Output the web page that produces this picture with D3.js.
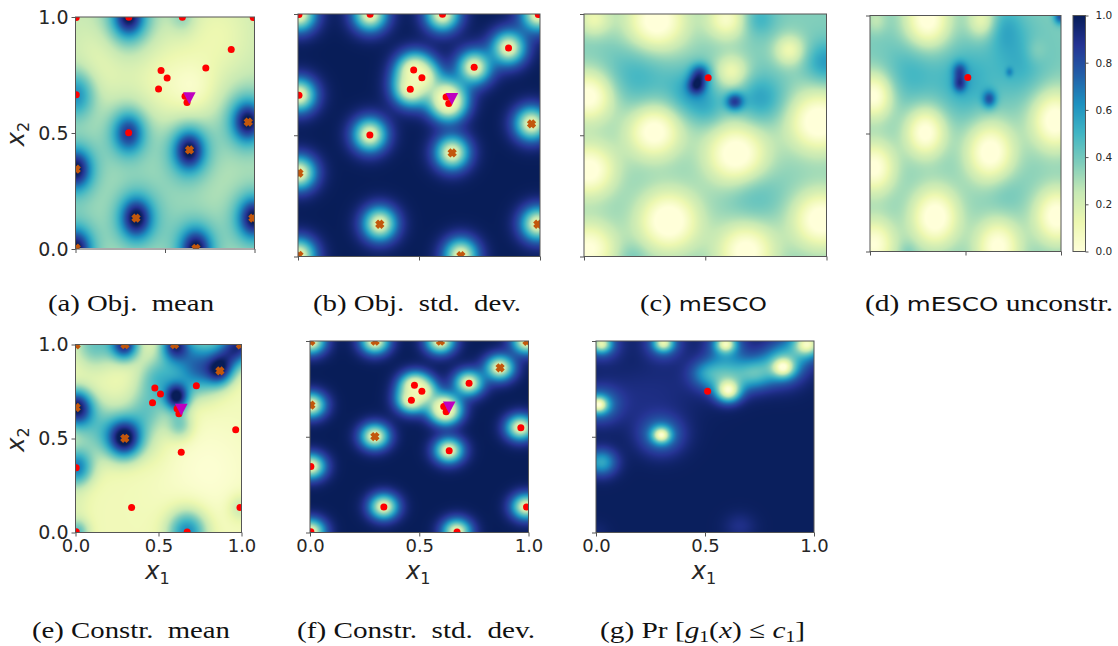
<!DOCTYPE html>
<html><head><meta charset="utf-8">
<script src="https://cdn.jsdelivr.net/npm/d3@7/dist/d3.min.js"></script>
<style>html,body{margin:0;padding:0;background:#fff}svg{display:block}</style>
</head><body><svg id="c" width="1118" height="646"></svg>
<script>
const obsX1 = [0.004,0.298,0.597,0.993,0.870,0.728,0.478,0.512,0.464,0.612,0.623,0.004,0.297,0.965,0.637,0.004,0.338,0.991,0.004,0.673];
const obsX2 = [0.998,0.999,0.999,0.998,0.860,0.780,0.769,0.737,0.690,0.658,0.631,0.665,0.501,0.547,0.427,0.344,0.133,0.133,0.004,0.003];
// 1 = drawn as an orange cross, 0 = a red dot
const objCross    = [0,0,0,0,0,0,0,0,0,0,0,0,0,1,1,1,1,1,1,1];
const constrCross = [1,1,1,1,1,0,0,0,0,0,0,1,1,0,0,0,0,0,0,0];
const bestObj = [0.636,0.652];
const bestConstr = [0.637,0.656];
const suggestA = [0.512,0.737];
const tick3 = [0,0.5,1];
const barTicks = [0,0.2,0.4,0.6,0.8,1];
const palette = ["#ffffd9","#edf8b1","#c7e9b4","#7fcdbb","#41b6c4","#1d91c0","#225ea8","#253494","#081d58"];

// Fields: a base level plus features [x1, x2, height, width]
const baseA = 0.25;
const peaksA = [[0.635,0.425,1],[0.962,0.55,1],[0.0,0.343,1],[0.339,0.133,1],[0.995,0.133,1],[0.0,0.0,1],[0.672,0.0,1],[0.297,0.5,0.8],[0.297,1.0,1]];
const featA = [[0.003,0.665,0.38,0.07],[0.6,1.0,0.14,0.05],[0.5,0.72,-0.14,0.14],[0.67,0.68,-0.12,0.09],[0.8,0.92,-0.12,0.14],[0.12,0.85,-0.07,0.1],[0.2,0.72,-0.05,0.1],[0.5,0.2,0.04,0.15]];
const baseC = 0.37;
const featC = [[0.30,0.97,-0.43,0.09],[0.59,0.98,-0.32,0.06],[0.85,0.85,-0.26,0.045],[0.04,0.98,-0.24,0.05],[0.02,0.66,-0.41,0.075],[0.29,0.515,-0.42,0.08],[0.63,0.42,-0.44,0.09],[0.97,0.555,-0.44,0.09],[0.02,0.355,-0.41,0.08],[0.35,0.145,-0.45,0.09],[0.67,0.02,-0.41,0.085],[0.98,0.15,-0.43,0.085],[0.02,0.03,-0.38,0.08],[0.61,0.76,-0.26,0.05],[0.22,0.74,0.14,0.1],[0.45,0.67,0.2,0.07],[0.73,0.65,0.2,0.07],[0.72,0.98,0.15,0.05],[1.0,0.8,0.22,0.06],[0.7,0.25,0.1,0.08],[0.2,0.0,0.06,0.04],[0.465,0.705,0.42,0.026],[0.48,0.755,0.38,0.028],[0.622,0.638,0.45,0.026],[0.52,0.6,0.08,0.05]];
const baseD = 0.38;
const featD = [[0.30,0.98,-0.42,0.085],[0.59,0.98,-0.27,0.055],[0.02,0.66,-0.4,0.07],[0.29,0.505,-0.41,0.075],[0.63,0.42,-0.43,0.09],[0.97,0.555,-0.43,0.09],[0.02,0.355,-0.4,0.08],[0.34,0.145,-0.44,0.09],[0.67,0.02,-0.4,0.085],[0.98,0.15,-0.42,0.085],[0.02,0.03,-0.38,0.08],[0.03,0.98,-0.12,0.04],[0.22,0.76,0.12,0.1],[0.5,0.72,0.16,0.1],[0.78,0.8,0.14,0.1],[0.7,0.95,0.15,0.07],[0.87,0.85,-0.08,0.04],[0.7,0.25,0.05,0.07],[0.47,0.71,0.34,0.024],[0.47,0.765,0.3,0.026],[0.625,0.645,0.36,0.026],[0.73,0.76,0.16,0.014],[0.995,0.995,0.4,0.022],[0.2,0.0,0.05,0.03]];
const baseE = 0.1;
const featE = [[0.297,1.0,0.78,0.058],[0.6,1.0,0.72,0.06],[0.87,0.86,0.55,0.055],[0.61,0.72,0.8,0.05],[0.003,0.665,0.85,0.068],[0.297,0.5,0.88,0.072],[0.004,0.344,0.56,0.068],[0.673,0.003,0.55,0.082],[0.01,0.0,0.36,0.05],[0.99,0.133,0.16,0.05],[0.74,0.88,0.62,0.1],[0.5,0.82,0.34,0.085],[0.12,1.0,0.32,0.09],[0.43,0.64,0.28,0.09],[0.14,0.55,0.28,0.11],[0.63,0.57,0.28,0.055],[1.0,1.0,0.62,0.07],[0.92,0.95,0.36,0.07],[0.0,0.15,0.06,0.06],[0.8,0.33,-0.08,0.2],[0.46,0.45,0.06,0.08]];
const baseG = 0.99;
const featG = [[0.30,0.508,-0.6,0.028],[0.30,0.508,-0.36,0.07],[0.012,0.667,-0.6,0.028],[0.012,0.667,-0.36,0.065],[0.025,0.985,-0.55,0.03],[0.025,0.985,-0.3,0.06],[0.31,0.99,-0.55,0.03],[0.31,0.99,-0.3,0.06],[0.595,0.985,-0.55,0.03],[0.595,0.985,-0.35,0.06],[0.86,0.86,-0.5,0.035],[0.86,0.86,-0.32,0.07],[0.97,0.985,-0.55,0.04],[0.97,0.985,-0.34,0.07],[0.607,0.735,-0.72,0.04],[0.60,0.82,-0.44,0.07],[0.73,0.83,-0.42,0.06],[0.5,0.83,-0.26,0.055],[0.85,0.92,-0.2,0.07],[0.025,0.365,-0.44,0.05],[0.66,0.03,-0.09,0.05],[0.15,0.7,-0.06,0.12],[0.35,0.75,-0.05,0.12],[0.0,0.0,-0.04,0.04]];

const captionA = [["(a) Obj.  mean"]];
const captionB = [["(b) Obj.  std.  dev."]];
const captionC = [["(c) "],["mESCO","sans"]];
const captionD = [["(d) "],["mESCO","sans"],[" unconstr."]];
const captionE = [["(e) Constr.  mean"]];
const captionF = [["(f) Constr.  std.  dev."]];
const captionG = [["(g) Pr ["],["g","i"],["1","s"],["("],["x","i"],[") ≤ "],["c","i"],["1","s"],["]"]];

const colorOf = d3.scaleLinear().domain(palette.map((_,i)=>i/(palette.length-1))).range(palette).clamp(true);

const allPts = obsX1.map((x,i)=>[x,obsX2[i]]);
const coreAndHalo = (q,a1,s1,a2,s2)=>[[q[0],q[1],a1,s1],[q[0],q[1],a2,s2]];
const featB = allPts.flatMap(q=>coreAndHalo(q,-0.4,0.025,-0.85,0.052));
const featF = allPts.flatMap(q=>coreAndHalo(q,-0.4,0.024,-0.85,0.049));
const featAall = featA.concat(peaksA.flatMap(q=>coreAndHalo(q,0.52*q[2],0.055,0.27*q[2],0.1)));

const panels = [
 {x0:75.5,x1:254.5,y0:17,y1:249,inset:1,base:baseA,feat:featAall,cross:objCross,tri:bestObj,cap:captionA,capX:[48,214],capY:311,ylab:true},
 {x0:298,x1:540,y0:14,y1:256.5,base:1,floor:0.07,product:true,feat:featB,cross:objCross,tri:bestObj,cap:captionB,capX:[313,521],capY:311},
 {x0:584,x1:826.5,y0:14,y1:256.5,base:baseC,feat:featC,only:suggestA,cap:captionC,capX:[640,767],capY:311},
 {x0:870,x1:1061,y0:15.5,y1:251.5,base:baseD,feat:featD,only:suggestA,cap:captionD,capX:[865,1113],capY:311},
 {x0:75.5,x1:241.5,y0:344.5,y1:532.5,base:baseE,feat:featE,cross:constrCross,tri:bestConstr,cap:captionE,capX:[32,230],capY:638,ylab:true,xlab:true},
 {x0:310,x1:528.5,y0:341,y1:532.5,base:1,floor:0.07,product:true,feat:featF,cross:constrCross,tri:bestConstr,cap:captionF,capX:[297,535],capY:638,xlab:true},
 {x0:596,x1:814,y0:341,y1:532.5,base:baseG,feat:featG,only:suggestA,cap:captionG,capX:[600,805],capY:638,xlab:true}
];

const svg = d3.select("#c");
const axisCol = "#555";
function styleAxis(g, fs){
  g.selectAll(".domain").remove();
  g.selectAll("line").attr("stroke",axisCol).attr("stroke-width",1);
  g.selectAll("text").attr("fill","#262626").attr("font-family","DejaVu Sans").attr("font-size",fs);
}
function fieldImage(w,h,fn){
  const cv=document.createElement("canvas");cv.width=w;cv.height=h;
  const ctx=cv.getContext("2d");const im=ctx.createImageData(w,h);
  for(let j=0;j<h;j++)for(let i=0;i<w;i++){
    const c=d3.rgb(colorOf(fn(i,j)));const k=4*(j*w+i);
    im.data[k]=c.r;im.data[k+1]=c.g;im.data[k+2]=c.b;im.data[k+3]=255;
  }
  ctx.putImageData(im,0,0);return cv.toDataURL();
}
panels.forEach((p,idx)=>{
  const x=d3.scaleLinear().domain([0,1]).range([p.x0,p.x1]);
  const y=d3.scaleLinear().domain([0,1]).range([p.y1,p.y0]);
  const w=Math.round(p.x1-p.x0), inset=p.inset||0, h=Math.round(p.y1-p.y0-inset);
  const href=fieldImage(w,h,(i,j)=>{
    const u=x.invert(p.x0+i+0.5), v=y.invert(p.y0+j+0.5);
    let s=p.base;
    for(const f of p.feat){
      const dx=u-f[0],dy=v-f[1],g=Math.exp(-(dx*dx+dy*dy)/(2*f[3]*f[3]));
      if(p.product) s*=1+f[2]*g; else s+=f[2]*g;
    }
    if(p.product) s=p.floor+(1-p.floor)*s;
    return Math.max(0,Math.min(1,s));
  });
  svg.append("image").attr("x",p.x0).attr("y",p.y0).attr("width",p.x1-p.x0).attr("height",p.y1-p.y0-inset).attr("preserveAspectRatio","none").attr("href",href);
  // markers, clipped to the frame
  const clipId="clip"+idx;
  svg.append("clipPath").attr("id",clipId).append("rect").attr("x",p.x0).attr("y",p.y0).attr("width",p.x1-p.x0).attr("height",p.y1-p.y0);
  const g=svg.append("g").attr("clip-path",`url(#${clipId})`);
  if(p.only){
    g.append("circle").attr("cx",x(p.only[0])).attr("cy",y(p.only[1])).attr("r",3.5).attr("fill","#f00");
  } else {
    allPts.forEach((q,i)=>{
      if(p.cross[i]){
        g.append("path").attr("d",d3.symbol(d3.symbolX,28)).attr("transform",`translate(${x(q[0])},${y(q[1])})`).attr("stroke","#c2570c").attr("stroke-width",4.2).attr("fill","none");
      } else {
        g.append("circle").attr("cx",x(q[0])).attr("cy",y(q[1])).attr("r",3.5).attr("fill","#f00");
      }
    });
    const t=[x(p.tri[0]),y(p.tri[1])];
    g.append("path").attr("d",d3.line()([[-6.3,-5.5],[6.3,-5.5],[0,6.5]])+"Z").attr("transform",`translate(${t[0]},${t[1]})`).attr("fill","#bf00bf");
  }
  // frame
  svg.append("rect").attr("x",p.x0).attr("y",p.y0).attr("width",p.x1-p.x0).attr("height",p.y1-p.y0).attr("fill","none").attr("stroke",axisCol).attr("stroke-width",1);
  // axes
  const gy=svg.append("g").attr("transform",`translate(${p.x0},0)`).call(d3.axisLeft(y).tickValues(tick3).tickSize(4).tickPadding(3).tickFormat(p.ylab?d3.format(".1f"):""));
  styleAxis(gy,19);
  const gx=svg.append("g").attr("transform",`translate(0,${p.y1})`).call(d3.axisBottom(x).tickValues(tick3).tickSize(4).tickPadding(3).tickFormat(p.xlab?d3.format(".1f"):""));
  styleAxis(gx,18);
  // axis titles
  const cx=(p.x0+p.x1)/2, cy=(p.y0+p.y1)/2;
  if(p.xlab){
    const t=svg.append("text").attr("x",cx-1).attr("y",579).attr("text-anchor","middle").attr("font-family","DejaVu Sans").attr("fill","#262626");
    t.append("tspan").attr("font-size",24).attr("font-style","italic").text("x");
    t.append("tspan").attr("font-size",16).attr("dy",5).text("1");
  }
  if(p.ylab){
    const t=svg.append("text").attr("transform",`translate(24,${cy+1}) rotate(-90)`).attr("text-anchor","middle").attr("font-family","DejaVu Sans").attr("fill","#262626");
    t.append("tspan").attr("font-size",24).attr("font-style","italic").text("x");
    t.append("tspan").attr("font-size",16).attr("dy",5).text("2");
  }
  // caption
  const c=svg.append("text").attr("x",p.capX[0]).attr("y",p.capY).attr("font-family","Liberation Serif").attr("font-size",24).attr("fill","#111")
    .attr("textLength",p.capX[1]-p.capX[0]).attr("lengthAdjust","spacingAndGlyphs").style("white-space","pre");
  let prevSub=false;
  p.cap.forEach(seg=>{
    const ts=c.append("tspan").text(seg[0]);
    if(seg[1]==="sans") ts.attr("font-family","DejaVu Sans").attr("font-size",20);
    if(seg[1]==="i") ts.attr("font-style","italic");
    if(seg[1]==="s"){ts.attr("font-size",16).attr("dy",4);prevSub=true;}
    else if(prevSub){ts.attr("dy",-4);prevSub=false;}
  });
});

// colour bar
const barX0=1073,barX1=1085.5,barY0=15.5,barY1=251.5;
const by=d3.scaleLinear().domain([0,1]).range([barY1,barY0]);
const barH=Math.round(barY1-barY0);
svg.append("image").attr("x",barX0).attr("y",barY0).attr("width",barX1-barX0).attr("height",barY1-barY0).attr("preserveAspectRatio","none")
  .attr("href",fieldImage(4,barH,(i,j)=>by.invert(barY0+j+0.5)));
svg.append("rect").attr("x",barX0).attr("y",barY0).attr("width",barX1-barX0).attr("height",barY1-barY0).attr("fill","none").attr("stroke",axisCol).attr("stroke-width",1);
const gb=svg.append("g").attr("transform",`translate(${barX1},0)`).call(d3.axisRight(by).tickValues(barTicks).tickSize(3).tickPadding(7).tickFormat(d3.format(".1f")));
styleAxis(gb,10.5);
</script></body></html>
